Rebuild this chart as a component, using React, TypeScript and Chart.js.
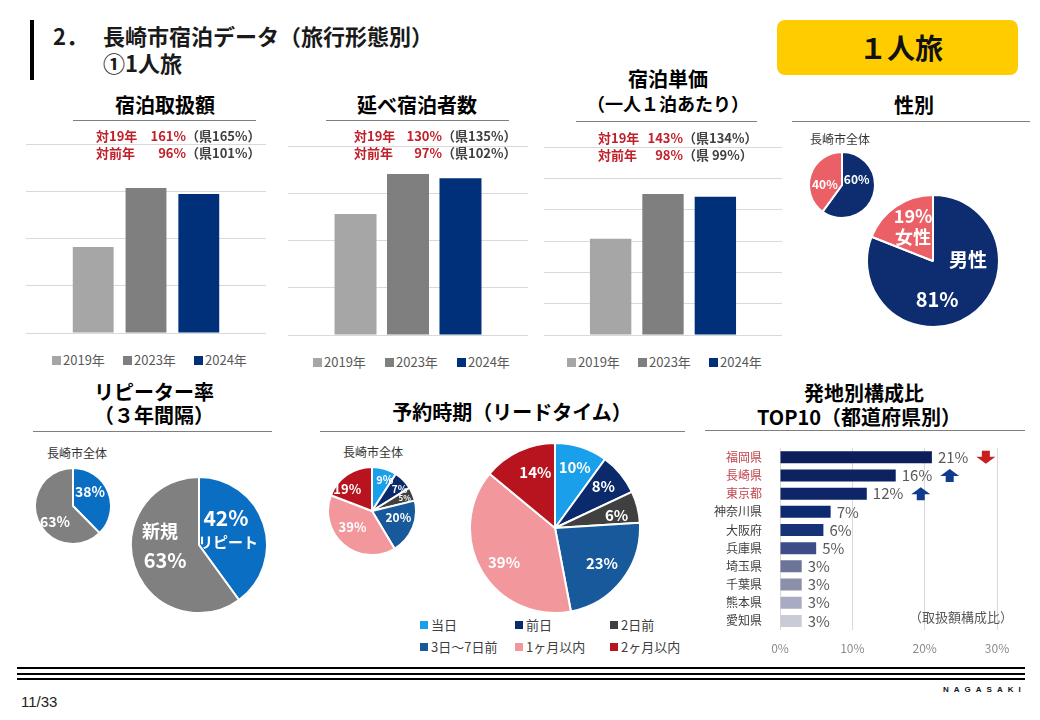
import React, { useEffect, useRef } from 'react';
import { Chart, registerables } from 'chart.js';

Chart.register(...registerables);

const FONT = '"Noto Sans CJK JP", "Noto Sans", sans-serif';

// ---------- data ----------
const yearLabels = ['2019年', '2023年', '2024年'];
const yearColors = ['#A6A6A6', '#7F7F7F', '#00307A'];
const amountValues = [1.82, 3.07, 2.94];
const guestValues = [2.56, 3.41, 3.32];
const unitPriceValues = [3.07, 4.5, 4.41];
const amountCompare = [161, 165, 96, 101];
const guestCompare = [130, 135, 97, 102];
const unitPriceCompare = [143, 134, 98, 99];

const genderLabels = ['男性', '女性'];
const genderCityValues = [60, 40];
const genderSoloValues = [81, 19];
const genderColors = ['#0E2D70', '#EB5F66'];

const repeatLabels = ['リピート', '新規'];
const repeatCityValues = [38, 63];
const repeatSoloValues = [42, 63];
const repeatColors = ['#0A6FC2', '#808080'];

const leadLabels = ['当日', '前日', '2日前', '3日～7日前', '1ヶ月以内', '2ヶ月以内'];
const leadCityValues = [9, 7, 5, 20, 39, 19];
const leadSoloValues = [10, 8, 6, 23, 39, 14];
const leadColors = ['#1A9FEA', '#0B2A6B', '#404040', '#17599A', '#F2979C', '#B8141F'];

const prefLabels = ['福岡県', '長崎県', '東京都', '神奈川県', '大阪府', '兵庫県', '埼玉県', '千葉県', '熊本県', '愛知県'];
const prefValues = [21, 16, 12, 7, 6, 5, 3, 3, 3, 3];
const prefTrend = ['down', 'up', 'up', '', '', '', '', '', '', ''];
const prefHighlight = [true, true, true, false, false, false, false, false, false, false];
const prefColors = ['#0D1E5A', '#0D2260', '#0E2567', '#0B2A70', '#163378', '#3E4D87', '#6D749A', '#8B90AB', '#A8ABC1', '#C9CBD7'];

const RED = '#C0202A';
const pct = (v: number) => `${v}%`;

// ---------- plugins ----------
const sliceLabelPlugin = {
  id: 'sliceLabels',
  afterDatasetsDraw(chart: any, _args: any, opts: any) {
    if (!opts || !opts.items) return;
    const meta = chart.getDatasetMeta(0);
    const ctx = chart.ctx;
    ctx.save();
    ctx.textAlign = 'center';
    ctx.textBaseline = 'middle';
    opts.items.forEach((it: any) => {
      const arc = meta.data[it.i];
      const p = arc.getProps(['x', 'y', 'startAngle', 'endAngle', 'outerRadius'], true);
      const a = (p.startAngle + p.endAngle) / 2 + ((it.shift || 0) * Math.PI) / 180;
      const r = p.outerRadius * it.r;
      const cx = p.x + Math.cos(a) * r;
      const cy = p.y + Math.sin(a) * r;
      const n = it.lines.length;
      it.lines.forEach((ln: any, k: number) => {
        ctx.font = `${ln.w || 700} ${ln.size}px ${FONT}`;
        ctx.fillStyle = ln.color || '#FFFFFF';
        ctx.fillText(ln.t, cx, cy + (k - (n - 1) / 2) * (it.lh || ln.size * 1.15));
      });
    });
    ctx.restore();
  },
};

function drawArrow(ctx: CanvasRenderingContext2D, left: number, cy: number, up: boolean, color: string) {
  const w = 19, h = 13, head = 7, stem = 8;
  const top = cy - h / 2;
  const mid = left + w / 2;
  ctx.beginPath();
  if (up) {
    ctx.moveTo(mid, top);
    ctx.lineTo(left + w, top + head);
    ctx.lineTo(mid + stem / 2, top + head);
    ctx.lineTo(mid + stem / 2, top + h);
    ctx.lineTo(mid - stem / 2, top + h);
    ctx.lineTo(mid - stem / 2, top + head);
    ctx.lineTo(left, top + head);
  } else {
    ctx.moveTo(mid, top + h);
    ctx.lineTo(left + w, top + h - head);
    ctx.lineTo(mid + stem / 2, top + h - head);
    ctx.lineTo(mid + stem / 2, top);
    ctx.lineTo(mid - stem / 2, top);
    ctx.lineTo(mid - stem / 2, top + h - head);
    ctx.lineTo(left, top + h - head);
  }
  ctx.closePath();
  ctx.fillStyle = color;
  ctx.fill();
}

const prefLabelPlugin = {
  id: 'prefValueLabels',
  afterDatasetsDraw(chart: any) {
    const ctx = chart.ctx;
    const meta = chart.getDatasetMeta(0);
    ctx.save();
    ctx.font = `400 15px ${FONT}`;
    ctx.textAlign = 'left';
    ctx.textBaseline = 'middle';
    meta.data.forEach((bar: any, i: number) => {
      const txt = pct(prefValues[i]);
      const x = bar.x + 6;
      ctx.fillStyle = '#595959';
      ctx.fillText(txt, x, bar.y);
      const t = prefTrend[i];
      if (t) {
        const ax = x + ctx.measureText(txt).width + 8;
        drawArrow(ctx, ax, bar.y, t === 'up', t === 'up' ? '#0F3C8C' : '#C81E1E');
      }
    });
    ctx.restore();
  },
};

// ---------- configs ----------
function yearBarConfig(values: number[], max: number, cat: number, barPct: number) {
  return {
    type: 'bar',
    data: {
      labels: [''],
      datasets: yearLabels.map((label, i) => ({
        label,
        data: [values[i]],
        backgroundColor: yearColors[i],
        categoryPercentage: cat,
        barPercentage: barPct,
      })),
    },
    options: {
      responsive: false,
      animation: false,
      devicePixelRatio: 1,
      layout: { padding: { top: 2, bottom: 2, left: 0, right: 0 } },
      plugins: { legend: { display: false }, tooltip: { enabled: false } },
      scales: {
        x: { display: false },
        y: {
          min: 0,
          max,
          ticks: { display: false, stepSize: 1 },
          grid: { color: '#D9D9D9', drawTicks: false, lineWidth: 1 },
          border: { display: false },
          afterFit: (s: any) => { s.width = 0; },
        },
      },
    },
  };
}

function pieConfig(labels: string[], values: number[], colors: string[], items: any[]) {
  return {
    type: 'pie',
    data: {
      labels,
      datasets: [{ data: values, backgroundColor: colors, borderColor: '#FFFFFF', borderWidth: 2 }],
    },
    options: {
      responsive: false,
      animation: false,
      devicePixelRatio: 1,
      layout: { padding: 0 },
      plugins: { legend: { display: false }, tooltip: { enabled: false }, sliceLabels: { items } },
    },
    plugins: [sliceLabelPlugin],
  };
}

const prefConfig = {
  type: 'bar',
  data: {
    labels: prefLabels,
    datasets: [{ data: prefValues, backgroundColor: prefColors, barPercentage: 0.66, categoryPercentage: 1 }],
  },
  options: {
    indexAxis: 'y',
    responsive: false,
    animation: false,
    devicePixelRatio: 1,
    layout: { padding: { top: 7, right: 33, bottom: 0, left: 0 } },
    plugins: { legend: { display: false }, tooltip: { enabled: false } },
    scales: {
      x: {
        min: 0,
        max: 30,
        ticks: { stepSize: 10, callback: (v: any) => `${v}%`, color: '#8C8C8C', font: { size: 12, family: FONT }, padding: 11 },
        grid: { color: '#D9D9D9', drawTicks: false },
        border: { display: false },
        afterFit: (s: any) => { s.height = 30; },
      },
      y: {
        ticks: {
          autoSkip: false,
          color: (c: any) => (prefHighlight[c.index] ? '#C0474F' : '#404040'),
          font: { size: 12, family: FONT },
          padding: 10,
        },
        grid: { display: false },
        border: { display: false },
        afterFit: (s: any) => { s.width = 80; },
      },
    },
  },
  plugins: [prefLabelPlugin],
};

// ---------- components ----------
type Rect = { left: number; top: number; width: number; height: number };

function ChartBox({ rect, config }: { rect: Rect; config: any }) {
  const ref = useRef<HTMLCanvasElement>(null);
  useEffect(() => {
    const chart = new Chart(ref.current as HTMLCanvasElement, config);
    return () => chart.destroy();
  }, []);
  return (
    <canvas
      ref={ref}
      width={rect.width}
      height={rect.height}
      style={{ position: 'absolute', left: rect.left, top: rect.top, width: rect.width, height: rect.height }}
    />
  );
}

function Txt({ x, y, children, size, weight = 400, color = '#000', align = 'left', w = 600, family = FONT, style = {} }: any) {
  let left = x;
  if (align === 'center') left = x - w / 2;
  else if (align === 'right') left = x - w;
  return (
    <div
      style={{
        position: 'absolute', left, top: y - size * 0.75, width: w, height: size * 1.5, lineHeight: `${size * 1.5}px`,
        fontSize: size, fontWeight: weight, color, textAlign: align, fontFamily: family, whiteSpace: 'nowrap', ...style,
      }}
    >
      {children}
    </div>
  );
}

function Rule({ x1, x2, y, h = 1, color = '#7F7F7F' }: any) {
  return <div style={{ position: 'absolute', left: x1, top: y, width: x2 - x1, height: h, background: color }} />;
}

function Compare({ x, valEnd, y, vals }: any) {
  const [v19, p19, vPrev, pPrev] = vals;
  const fmtPref = (p: number) => `（県${p < 100 ? ' ' : ''}${p}%）`;
  const rows = [['対19年', v19, p19], ['対前年', vPrev, pPrev]];
  return (
    <>
      {rows.map((r: any, k: number) => (
        <React.Fragment key={k}>
          <Txt x={x} y={y + k * 17} size={13} weight={700} color={RED} w={60}>{r[0]}</Txt>
          <Txt x={valEnd} y={y + k * 17} size={13} weight={700} color={RED} align="right" w={60}>{pct(r[1])}</Txt>
          <Txt x={valEnd} y={y + k * 17} size={13} weight={700} color="#404040" w={100}>{fmtPref(r[2])}</Txt>
        </React.Fragment>
      ))}
    </>
  );
}

function YearLegend({ x, y, step }: any) {
  return (
    <>
      {yearLabels.map((l, i) => (
        <React.Fragment key={l}>
          <div style={{ position: 'absolute', left: x + i * step, top: y - 4, width: 9, height: 9, background: yearColors[i] }} />
          <Txt x={x + i * step + 11} y={y} size={13} color="#595959" w={60}>{l}</Txt>
        </React.Fragment>
      ))}
    </>
  );
}

function LeadLegend() {
  const cols = [420, 515, 610];
  const rows = [625, 647];
  return (
    <>
      {leadLabels.map((l, i) => {
        const x = cols[i % 3];
        const y = rows[Math.floor(i / 3)];
        return (
          <React.Fragment key={l}>
            <div style={{ position: 'absolute', left: x, top: y - 4, width: 8, height: 8, background: leadColors[i] }} />
            <Txt x={x + 11} y={y} size={13} color="#404040" w={90}>{l}</Txt>
          </React.Fragment>
        );
      })}
    </>
  );
}

export default function App() {
  const genderCityItems = [
    { i: 0, r: 0.48, shift: -40, lines: [{ t: pct(genderCityValues[0]), size: 12 }] },
    { i: 1, r: 0.52, shift: -15, lines: [{ t: pct(genderCityValues[1]), size: 12 }] },
  ];
  const genderSoloItems = [
    { i: 0, r: 0.53, shift: -57, lines: [{ t: genderLabels[0], size: 19 }] },
    { i: 0, r: 0.58, shift: 28, lines: [{ t: pct(genderSoloValues[0]), size: 20 }] },
    { i: 1, r: 0.6, shift: 4, lh: 21, lines: [{ t: pct(genderSoloValues[1]), size: 18 }, { t: genderLabels[1], size: 18 }] },
  ];
  const repeatCityItems = [
    { i: 0, r: 0.58, shift: -17, lines: [{ t: pct(repeatCityValues[0]), size: 14 }] },
    { i: 1, r: 0.62, shift: -18, lines: [{ t: pct(repeatCityValues[1]), size: 14 }] },
  ];
  const repeatSoloItems = [
    { i: 0, r: 0.56, shift: -27, lines: [{ t: pct(repeatSoloValues[0]), size: 21 }] },
    { i: 0, r: 0.43, shift: 12, lines: [{ t: repeatLabels[0], size: 15 }] },
    { i: 1, r: 0.61, shift: 38, lines: [{ t: repeatLabels[1], size: 18 }] },
    { i: 1, r: 0.55, shift: -7, lines: [{ t: pct(repeatSoloValues[1]), size: 20 }] },
  ];
  const leadCityPos = [[0.76, 6, 11], [0.8, 6, 10], [0.8, 1, 8], [0.62, -8, 12], [0.57, 11, 13], [0.75, -14, 13]];
  const leadCityItems = leadCityValues.map((v, i) => ({
    i, r: leadCityPos[i][0], shift: leadCityPos[i][1], lines: [{ t: pct(v), size: leadCityPos[i][2] }],
  }));
  const leadSoloPos = [[0.75, 0], [0.75, -1], [0.74, 3], [0.69, -1], [0.72, -3], [0.7, 6]];
  const leadSoloItems = leadSoloValues.map((v, i) => ({
    i, r: leadSoloPos[i][0], shift: leadSoloPos[i][1], lines: [{ t: pct(v), size: 15 }],
  }));

  return (
    <div style={{ position: 'absolute', left: 0, top: 0, width: 1040, height: 720, background: '#FFFFFF', overflow: 'hidden', fontFamily: FONT }}>
      {/* header */}
      <div style={{ position: 'absolute', left: 30, top: 20, width: 4, height: 60, background: '#000' }} />
      <Txt x={53} y={35} size={22} weight={700} color="#1A1A1A">2．</Txt>
      <Txt x={103} y={35} size={22} weight={700} color="#1A1A1A">長崎市宿泊データ（旅行形態別）</Txt>
      <Txt x={103} y={62} size={22} weight={700} color="#1A1A1A">①1人旅</Txt>
      <div style={{ position: 'absolute', left: 777, top: 20, width: 241, height: 55, background: '#FFCC00', borderRadius: 8 }} />
      <Txt x={901} y={47} size={28} weight={700} color="#111" align="center" w={240}>１人旅</Txt>

      {/* 宿泊取扱額 */}
      <Txt x={165} y={105} size={20} weight={700} align="center" w={240}>宿泊取扱額</Txt>
      <Rule x1={73} x2={256} y={120} />
      <ChartBox rect={{ left: 26, top: 142, width: 240, height: 193 }} config={yearBarConfig(amountValues, 4, 0.66, 0.774)} />
      <Compare x={96} valEnd={186} y={136} vals={amountCompare} />
      <YearLegend x={52} y={360} step={71} />

      {/* 延べ宿泊者数 */}
      <Txt x={417} y={105} size={20} weight={700} align="center" w={240}>延べ宿泊者数</Txt>
      <Rule x1={326} x2={509} y={120} />
      <ChartBox rect={{ left: 288, top: 144, width: 240, height: 193 }} config={yearBarConfig(guestValues, 4, 0.656, 0.8)} />
      <Compare x={354} valEnd={442} y={136} vals={guestCompare} />
      <YearLegend x={313} y={362} step={72} />

      {/* 宿泊単価 */}
      <Txt x={668} y={79} size={20} weight={700} align="center" w={240}>宿泊単価</Txt>
      <Txt x={668} y={103} size={18} weight={700} align="center" w={240}>（一人１泊あたり）</Txt>
      <Rule x1={576} x2={757} y={121} />
      <ChartBox rect={{ left: 544, top: 145, width: 238, height: 192 }} config={yearBarConfig(unitPriceValues, 6, 0.66, 0.79)} />
      <Compare x={598} valEnd={683} y={138} vals={unitPriceCompare} />
      <YearLegend x={567} y={362} step={71} />

      {/* 性別 */}
      <Txt x={914} y={105} size={20} weight={700} align="center" w={200}>性別</Txt>
      <Rule x1={792} x2={1030} y={121} />
      <Txt x={810} y={139} size={12} color="#333">長崎市全体</Txt>
      <ChartBox rect={{ left: 808, top: 151, width: 68, height: 68 }} config={pieConfig(genderLabels, genderCityValues, genderColors, genderCityItems)} />
      <ChartBox rect={{ left: 866, top: 194, width: 134, height: 134 }} config={pieConfig(genderLabels, genderSoloValues, genderColors, genderSoloItems)} />

      {/* リピーター率 */}
      <Txt x={154} y={392} size={20} weight={700} align="center" w={260}>リピーター率</Txt>
      <Txt x={154} y={415} size={20} weight={700} align="center" w={260}>（３年間隔）</Txt>
      <Rule x1={33} x2={272} y={431} />
      <Txt x={47} y={453} size={12} color="#333">長崎市全体</Txt>
      <ChartBox rect={{ left: 34, top: 467, width: 78, height: 78 }} config={pieConfig(repeatLabels, repeatCityValues, repeatColors, repeatCityItems)} />
      <ChartBox rect={{ left: 130, top: 476, width: 138, height: 138 }} config={pieConfig(repeatLabels, repeatSoloValues, repeatColors, repeatSoloItems)} />

      {/* 予約時期 */}
      <Txt x={512} y={412} size={20} weight={700} align="center" w={360}>予約時期（リードタイム）</Txt>
      <Rule x1={320} x2={685} y={431} />
      <Txt x={343} y={452} size={12} color="#333">長崎市全体</Txt>
      <ChartBox rect={{ left: 327, top: 466, width: 90, height: 90 }} config={pieConfig(leadLabels, leadCityValues, leadColors, leadCityItems)} />
      <ChartBox rect={{ left: 469, top: 442, width: 172, height: 172 }} config={pieConfig(leadLabels, leadSoloValues, leadColors, leadSoloItems)} />
      <LeadLegend />

      {/* 発地別構成比 */}
      <Txt x={864} y={393} size={20} weight={700} align="center" w={320}>発地別構成比</Txt>
      <Txt x={859} y={417} size={20} weight={700} align="center" w={320}>TOP10（都道府県別）</Txt>
      <Rule x1={705} x2={1025} y={430} />
      <ChartBox rect={{ left: 700, top: 431, width: 330, height: 229 }} config={prefConfig} />
      <Txt x={1013} y={617} size={13} color="#595959" align="right" w={140}>（取扱額構成比）</Txt>

      {/* footer */}
      <Rule x1={17} x2={1025} y={667} h={2} color="#000" />
      <Rule x1={17} x2={1025} y={673} h={2} color="#000" />
      <Rule x1={17} x2={1025} y={678} h={2} color="#000" />
      <Txt x={943} y={690} size={8} weight={700} color="#111" family='"Liberation Sans", sans-serif' style={{ letterSpacing: 5 }} w={100}>NAGASAKI</Txt>
      <Txt x={21} y={702} size={15} color="#222" family='"Liberation Sans", sans-serif' w={80}>11/33</Txt>
    </div>
  );
}
